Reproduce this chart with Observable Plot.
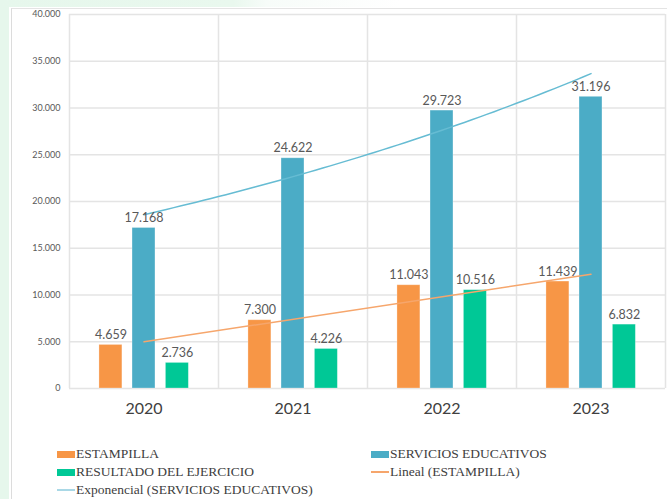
<!DOCTYPE html>
<html>
<head>
<meta charset="utf-8">
<script src="https://cdn.jsdelivr.net/npm/d3@7"></script>
<script src="https://cdn.jsdelivr.net/npm/@observablehq/plot@0.6"></script>
<style>
  html, body { margin: 0; padding: 0; background: #fff; }
  #wrap { position: relative; width: 667px; height: 499px; overflow: hidden; background: #fff; }
  #mintL { position: absolute; left: 0; top: 0; width: 9px; height: 499px; background: #e6f7ec; }
  #mintT { position: absolute; left: 0; top: 0; width: 667px; height: 7px;
           background: linear-gradient(to right, #e6f7ec 0%, #e9f8ee 35%, #f7fcf9 40%, #ffffff 60%); }
  #panel { position: absolute; left: 11px; top: 8px; width: 700px; height: 520px;
           border-left: 1.5px solid #dcdcdc; border-top: 1.5px solid #e4e4e4; background: #fff; }
  #chart { position: absolute; left: 0; top: 0; }
  #legend { position: absolute; left: 0; top: 445px; width: 667px;
            font-family: "Liberation Serif", serif; font-size: 13.5px; color: #404040; }
  .item { position: absolute; display: flex; align-items: center; height: 18px; white-space: nowrap; }
  .sw { display: inline-block; width: 18px; margin-right: 1px; }
</style>
</head>
<body>
<div id="wrap">
  <div id="mintL"></div>
  <div id="mintT"></div>
  <div id="panel"></div>
  <div id="chart"></div>
  <div id="legend"></div>
</div>
<script>
const years = ["2020", "2021", "2022", "2023"];
const estampilla = [4659, 7300, 11043, 11439];
const servicios = [17168, 24622, 29723, 31196];
const resultado = [2736, 4226, 10516, 6832];
const seriesNames = ["ESTAMPILLA", "SERVICIOS EDUCATIVOS", "RESULTADO DEL EJERCICIO"];
const seriesColors = ["#f79646", "#4bacc6", "#00c896"];
const yTicks = [0, 5000, 10000, 15000, 20000, 25000, 30000, 35000, 40000];
const trendNames = ["Lineal (ESTAMPILLA)", "Exponencial (SERVICIOS EDUCATIVOS)"];
const trendColors = ["#f6a66c", "#66bcd3"];

const fmt = v => d3.format(",")(v).replace(/,/g, ".");

// bar table
const offsets = [-0.222, 0, 0.224];
const half = 0.077;
const allSeries = [estampilla, servicios, resultado];
const bars = [];
years.forEach((yr, i) => {
  allSeries.forEach((vals, s) => {
    const c = i + 1 + offsets[s];
    bars.push({year: yr, series: seriesNames[s], value: vals[i], x1: c - half, x2: c + half, xc: c, color: seriesColors[s]});
  });
});

// least-squares trendlines (Excel style)
const xs = years.map((_, i) => i + 1);
function fit(xv, yv) {
  const mx = d3.mean(xv), my = d3.mean(yv);
  const b = d3.sum(xv, (x, i) => (x - mx) * (yv[i] - my)) / d3.sum(xv, x => (x - mx) ** 2);
  return {a: my - b * mx, b};
}
const lin = fit(xs, estampilla);
const linPts = [1, 4].map(x => ({x, y: lin.a + lin.b * x}));
const ex = fit(xs, servicios.map(Math.log));
const expPts = d3.range(1, 4.0001, 0.05).map(x => ({x, y: Math.exp(ex.a + ex.b * x)}));

const plot = Plot.plot({
  width: 667,
  height: 432,
  marginLeft: 69,
  marginRight: 2,
  marginTop: 14,
  marginBottom: 44,
  style: {fontFamily: "Lato, sans-serif", background: "transparent", overflow: "visible"},
  x: {type: "linear", domain: [0.5, 4.5], axis: null},
  y: {domain: [0, 40000], axis: null},
  marks: [
    Plot.ruleY(yTicks, {stroke: "#e4e4e4", strokeWidth: 1.5}),
    Plot.ruleX([0.5, 1.5, 2.5, 3.5, 4.5], {y1: 0, y2: 40000, stroke: "#e4e4e4", strokeWidth: 1.5}),
    Plot.rectY(bars, {x1: "x1", x2: "x2", y1: 0, y2: "value", fill: "color", stroke: "#ffffff", strokeOpacity: 0.35, strokeWidth: 0.8}),
    Plot.line(linPts, {x: "x", y: "y", stroke: trendColors[0], strokeWidth: 1.5}),
    Plot.line(expPts, {x: "x", y: "y", stroke: trendColors[1], strokeWidth: 1.5}),
    Plot.text(bars, {x: "xc", y: "value", text: d => fmt(d.value), dy: -10, fontSize: 12.5, fill: "#595959", fontFamily: "Lato, sans-serif"}),
    Plot.axisY(yTicks, {tickSize: 0, tickPadding: 9, tickFormat: fmt, fontSize: 9, fill: "#595959", letterSpacing: -0.3}),
    Plot.axisX([1, 2, 3, 4], {tickSize: 0, tickPadding: 14, tickFormat: d => years[d - 1], fontSize: 16, fill: "#404040"})
  ]
});
document.getElementById("chart").appendChild(plot);

// legend
const legend = document.getElementById("legend");
const items = [
  {label: seriesNames[0], color: seriesColors[0], kind: "box", left: 57, top: 0},
  {label: seriesNames[1], color: seriesColors[1], kind: "box", left: 371, top: 0},
  {label: seriesNames[2], color: seriesColors[2], kind: "box", left: 57, top: 18},
  {label: trendNames[0], color: trendColors[0], kind: "line", left: 371, top: 18},
  {label: trendNames[1], color: "#a9d8e6", kind: "line", left: 57, top: 36}
];
items.forEach(it => {
  const d = document.createElement("div");
  d.className = "item";
  d.style.left = it.left + "px";
  d.style.top = it.top + "px";
  const sw = document.createElement("span");
  sw.className = "sw";
  sw.style.height = it.kind === "box" ? "7px" : "2px";
  sw.style.background = it.color;
  d.appendChild(sw);
  const t = document.createElement("span");
  t.textContent = it.label;
  d.appendChild(t);
  legend.appendChild(d);
});
</script>
</body>
</html>
